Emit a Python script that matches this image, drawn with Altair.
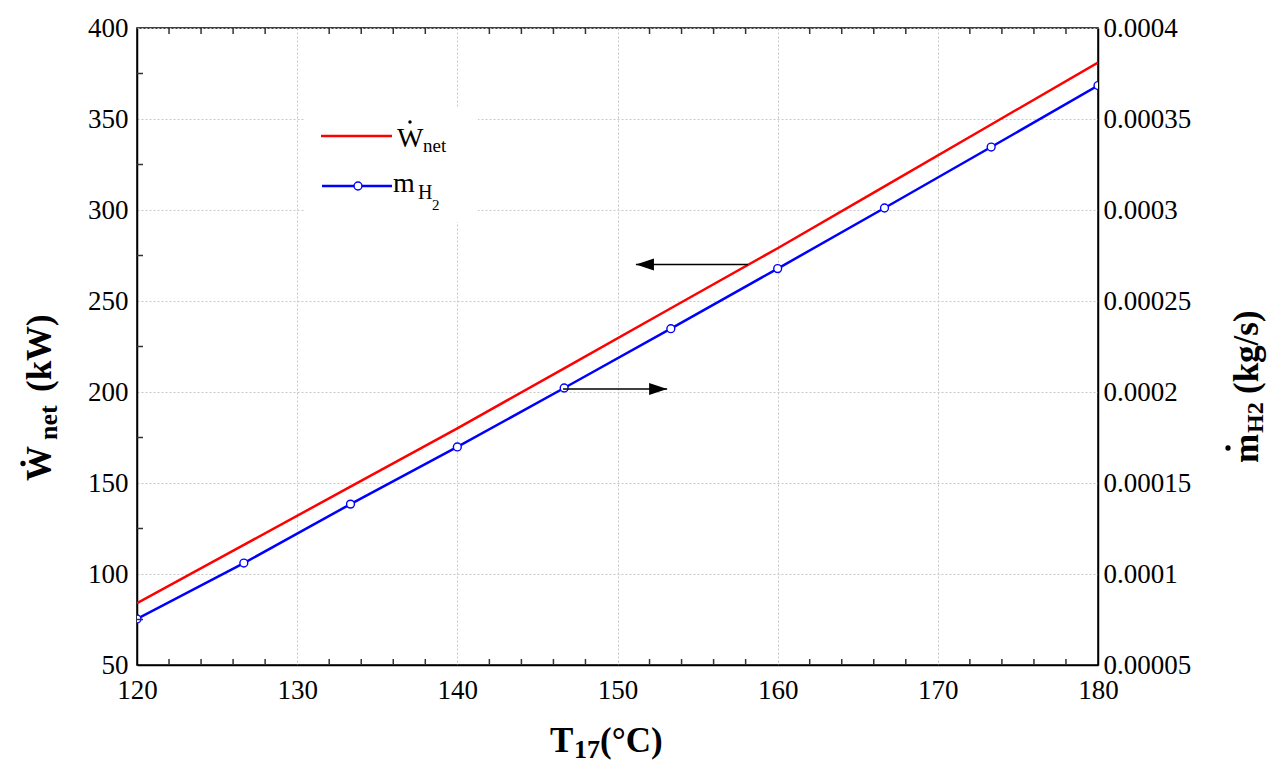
import altair as alt
import pandas as pd

# ---------------- data ----------------
T17 = [120, 126.67, 133.33, 140, 146.67, 153.33, 160, 166.67, 173.33, 180]
W_net = [84, 116, 148, 180, 213, 246, 279, 313, 347, 381]
m_H2 = [0.0000753, 0.000106, 0.0001384, 0.0001698, 0.0002022,
        0.0002348, 0.0002678, 0.0003011, 0.0003346, 0.0003684]

x_ticks = [120, 130, 140, 150, 160, 170, 180]
w_ticks = [50, 100, 150, 200, 250, 300, 350, 400]
m_ticks = [0.00005, 0.0001, 0.00015, 0.0002, 0.00025, 0.0003, 0.00035, 0.0004]
x_minor = [122, 124, 126, 128, 132, 134, 136, 138, 142, 144, 146, 148,
           152, 154, 156, 158, 162, 164, 166, 168, 172, 174, 176, 178]
w_minor = [75, 125, 175, 225, 275, 325, 375]

# arrows (annotation, in data units): left-pointing toward W axis, right-pointing toward m axis
arrowL_tip, arrowL_tail, arrowL_y = [151.15], [158.15], [270]
arrowR_tail, arrowR_tip, arrowR_y = [146.6], [153.1], [201.6]

W, H = 961, 637
FONT = "Liberation Serif"

df = pd.DataFrame({"T": T17, "W": W_net, "m": m_H2})
xs = alt.Scale(domain=[120, 180], nice=False, zero=False)
ws = alt.Scale(domain=[50, 400], nice=False, zero=False)
ms = alt.Scale(domain=[0.00005, 0.0004], nice=False, zero=False)

grid_kw = dict(grid=True, gridColor="#c8c8c8", gridDash=[2, 2], gridWidth=1)
lab_kw = dict(labelFont=FONT, labelFontSize=27, labelColor="black", labelFlush=False,
              labelOverlap=False)

# one shared x-axis definition used by every layer that has an x field
X_AX = alt.Axis(orient="bottom", values=x_ticks, title=None, ticks=False, tickSize=0,
                labelPadding=12, format="d", domainColor="black", domainWidth=1.5,
                **grid_kw, **lab_kw)

red = alt.Chart(df).mark_line(color="#ff0000", strokeWidth=2.5, clip=True).encode(
    x=alt.X("T:Q", scale=xs, axis=X_AX),
    y=alt.Y("W:Q", scale=ws, axis=alt.Axis(orient="left", values=w_ticks, title=None, ticks=False,
                                           tickSize=0, labelPadding=9, format="d",
                                           domainColor="black", domainWidth=1.5,
                                           **grid_kw, **lab_kw)),
)

blue = alt.Chart(df).mark_line(
    color="#0000ff", strokeWidth=2.5, clip=True,
    point=alt.OverlayMarkDef(filled=True, fill="white", stroke="#0000ff", size=62,
                             strokeWidth=1.4, clip=True),
).encode(
    x=alt.X("T:Q", scale=xs, axis=X_AX),
    y=alt.Y("m:Q", scale=ms, axis=alt.Axis(orient="right", values=m_ticks, title=None, ticks=False,
                                           tickSize=0, labelPadding=5, grid=False,
                                           labelExpr="format(datum.value, '.5~f')",
                                           domainColor="black", domainWidth=1.5, **lab_kw)),
)

# minor ticks (inside)
xm = pd.DataFrame({"t": x_minor})
wm = pd.DataFrame({"t": w_minor})
tick_style = dict(color="#333333", strokeWidth=1.5)
bottom_ticks = alt.Chart(xm).mark_rule(**tick_style).encode(
    x=alt.X("t:Q", scale=xs, axis=X_AX), y=alt.value(H), y2=alt.value(H - 6))
top_ticks = alt.Chart(xm).mark_rule(**tick_style).encode(
    x=alt.X("t:Q", scale=xs, axis=X_AX), y=alt.value(0), y2=alt.value(6))
left_ticks = alt.Chart(wm).mark_rule(**tick_style).encode(
    y=alt.Y("t:Q", scale=ws, axis=None), x=alt.value(0), x2=alt.value(6))

# arrows
aL = pd.DataFrame({"tip": arrowL_tip, "tail": arrowL_tail, "y": arrowL_y})
aR = pd.DataFrame({"tip": arrowR_tip, "tail": arrowR_tail, "y": arrowR_y})
arrowL_line = alt.Chart(aL).mark_rule(color="black", strokeWidth=1.5).encode(
    x=alt.X("tip:Q", scale=xs, axis=X_AX), x2="tail:Q", y=alt.Y("y:Q", scale=ws, axis=None))
arrowL_head = alt.Chart(aL).mark_point(shape="M0,0 L2,-0.667 L2,0.667 Z", filled=True, color="black",
                                       size=324, opacity=1, strokeWidth=0).encode(
    x=alt.X("tip:Q", scale=xs, axis=X_AX), y=alt.Y("y:Q", scale=ws, axis=None))
arrowR_line = alt.Chart(aR).mark_rule(color="black", strokeWidth=1.5).encode(
    x=alt.X("tail:Q", scale=xs, axis=X_AX), x2="tip:Q", y=alt.Y("y:Q", scale=ws, axis=None))
arrowR_head = alt.Chart(aR).mark_point(shape="M0,0 L-2,-0.667 L-2,0.667 Z", filled=True, color="black",
                                       size=324, opacity=1, strokeWidth=0).encode(
    x=alt.X("tip:Q", scale=xs, axis=X_AX), y=alt.Y("y:Q", scale=ws, axis=None))

one = pd.DataFrame({"a": [0]})


def txt(s, x, y, size, bold=False, angle=0):
    kw = dict(text=s, font=FONT, fontSize=size, color="black", align="left", baseline="alphabetic",
              fontWeight="bold" if bold else "normal")
    if angle:
        kw["angle"] = angle
    return alt.Chart(one).mark_text(**kw).encode(x=alt.value(x), y=alt.value(y))


def dot(x, y, size):
    return alt.Chart(one).mark_point(shape="circle", filled=True, color="black", size=size,
                                     opacity=1).encode(x=alt.value(x), y=alt.value(y))


# legend
leg_bg = alt.Chart(one).mark_rect(color="white").encode(
    x=alt.value(168), x2=alt.value(341), y=alt.value(79), y2=alt.value(194))
leg_red = alt.Chart(one).mark_rule(color="#ff0000", strokeWidth=2.5).encode(
    x=alt.value(184), x2=alt.value(255), y=alt.value(108))
leg_blue = alt.Chart(one).mark_rule(color="#0000ff", strokeWidth=2.5).encode(
    x=alt.value(185), x2=alt.value(255), y=alt.value(158))
leg_pt = alt.Chart(one).mark_point(shape="circle", filled=True, fill="white", stroke="#0000ff",
                                   size=62, strokeWidth=1.4, opacity=1).encode(
    x=alt.value(221), y=alt.value(158))
legend = [leg_bg, leg_red, leg_blue, leg_pt,
          txt("W", 260, 119, 28), dot(273, 94, 12), txt("net", 286, 124, 19),
          txt("m", 256, 164, 28), txt("H", 281, 171, 20), txt("2", 295, 182, 15)]

# axis titles
x_title = [txt("T", 413, 724, 35, True), txt("17", 437, 730, 26, True), txt("(°C)", 463, 724, 35, True)]
l_title = [txt("W", -86, 453, 35, True, 270), dot(-114, 435.5, 28),
           txt("net", -80, 412, 26, True, 270), txt("(kW)", -86, 364, 35, True, 270)]
r_title = [txt("m", 1121, 435, 35, True, 270), dot(1091, 420, 28),
           txt("H2", 1126, 405, 24, True, 270), txt("(kg/s)", 1121, 366, 35, True, 270)]

chart = alt.layer(
    red, blue, bottom_ticks, top_ticks, left_ticks,
    arrowL_line, arrowL_head, arrowR_line, arrowR_head,
    *legend, *x_title, *l_title, *r_title,
).resolve_scale(y="independent").properties(
    width=W, height=H,
    autosize=alt.AutoSizeParams(type="none"),
    padding={"left": 129, "top": 20, "right": 169, "bottom": 100},
).configure_view(stroke="black", strokeWidth=1.5)

chart.save("out.html", embed_options={"renderer": "svg", "actions": False})
